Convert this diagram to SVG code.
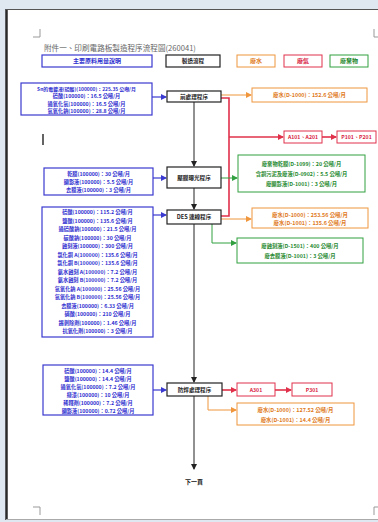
<svg xmlns="http://www.w3.org/2000/svg" width="378" height="522" viewBox="0 0 378 522">
<style>
text{font-family:"Noto Sans CJK TC","Noto Sans CJK SC",sans-serif;font-weight:bold;text-anchor:middle}
.b rect{fill:#fff;stroke:#3a3ad0;stroke-width:1.2}
.b text{fill:#2f2fd0;font-size:5.2px}
.p rect{fill:#fff;stroke:#222;stroke-width:1.2}
.p text{fill:#222;font-size:5.6px}
.o rect{fill:#fff;stroke:#f0963c;stroke-width:1}
.o text{fill:#e07a1c;font-size:5.4px}
.r rect{fill:#fff;stroke:#e0304a;stroke-width:1}
.r text{fill:#d82040;font-size:5.2px}
.g rect{fill:#fff;stroke:#30a040;stroke-width:1}
.g text{fill:#1f8a30;font-size:5.3px}
.k{stroke:#222;stroke-width:1;fill:none}
.ko{stroke:#f0963c;stroke-width:1;fill:none}
.kr{stroke:#e0304a;stroke-width:1.6;fill:none}
.kg{stroke:#30a040;stroke-width:1;fill:none}
.kb{stroke:#3a3ad0;stroke-width:1.2;fill:none}
.crn{stroke:#999;stroke-width:1;fill:none}
</style>
<defs>
<marker id="ak" markerWidth="6" markerHeight="6" refX="5" refY="3" orient="auto" markerUnits="userSpaceOnUse"><path d="M0,0L6,3L0,6z" fill="#222"/></marker>
<marker id="ao" markerWidth="6" markerHeight="6" refX="5" refY="3" orient="auto" markerUnits="userSpaceOnUse"><path d="M0,0L6,3L0,6z" fill="#f0963c"/></marker>
<marker id="ar" markerWidth="6" markerHeight="6" refX="5" refY="3" orient="auto" markerUnits="userSpaceOnUse"><path d="M0,0L6,3L0,6z" fill="#e0304a"/></marker>
<marker id="ag" markerWidth="6" markerHeight="6" refX="5" refY="3" orient="auto" markerUnits="userSpaceOnUse"><path d="M0,0L6,3L0,6z" fill="#30a040"/></marker>
<marker id="ab" markerWidth="6" markerHeight="6" refX="5" refY="3" orient="auto" markerUnits="userSpaceOnUse"><path d="M0,0L6,3L0,6z" fill="#3a3ad0"/></marker>
</defs>
<rect x="0" y="0" width="378" height="522" fill="#dfe8f1"/>
<rect x="7" y="9" width="371" height="510" fill="#fff"/>
<line x1="6.5" y1="9" x2="6.5" y2="520" stroke="#2a2a2a" stroke-width="2.5"/>
<line x1="6" y1="9.5" x2="378" y2="9.5" stroke="#555" stroke-width="1"/>
<line x1="6" y1="519.5" x2="378" y2="519.5" stroke="#aaa" stroke-width="1"/>
<g id="cornermarks">
<path class="crn" d="M40,29V37H33"/>
<path class="crn" d="M374,29V37H378"/>
<path class="crn" d="M33,507H40V515"/>
<path class="crn" d="M378,507H374V515"/>
</g>
<line x1="43" y1="134" x2="43" y2="145" stroke="#222" stroke-width="1.4"/>
<text x="44" y="51" style="font-size:7.6px;font-weight:normal;fill:#666;text-anchor:start">附件一、印刷電路板製造程序流程圖(260041)</text>

<g id="legend">
<g class="b" id="lg-material"><rect x="42" y="55" width="110" height="12"/><text x="97" y="63" style="font-size:6px">主要原料用量說明</text></g>
<g class="p" id="lg-process"><rect x="166" y="55" width="54" height="12"/><text x="193" y="63">製造流程</text></g>
<g class="o" id="lg-water"><rect x="237" y="55" width="38" height="12"/><text x="256" y="63" style="font-size:6px">廢水</text></g>
<g class="r" id="lg-gas"><rect x="284" y="55" width="38" height="12"/><text x="303" y="63" style="font-size:6px">廢氣</text></g>
<g class="g" id="lg-waste"><rect x="330" y="55" width="38" height="12"/><text x="349" y="63" style="font-size:6px">廢棄物</text></g>
</g>

<g id="connectors">
<path class="k" d="M194,102V166" marker-end="url(#ak)"/>
<path class="k" d="M194,188V209" marker-end="url(#ak)"/>
<path class="k" d="M194,224V382" marker-end="url(#ak)"/>
<path class="k" d="M194,396V469" marker-end="url(#ak)"/>
<path class="kb" d="M152,97H166" marker-end="url(#ab)"/>
<path class="kb" d="M153,178H166" marker-end="url(#ab)"/>
<path class="kb" d="M153,215H166" marker-end="url(#ab)"/>
<path class="kb" d="M153,390H166" marker-end="url(#ab)"/>
<path class="ko" d="M221,95H251" marker-end="url(#ao)"/>
<path class="kr" d="M221,98H229V216H221"/>
<path class="kr" d="M229,137H283" marker-end="url(#ar)"/>
<path class="kr" d="M322,137H336" marker-end="url(#ar)"/>
<path class="kg" d="M221,178H237" marker-end="url(#ag)"/>
<path class="ko" d="M221,219H251" marker-end="url(#ao)"/>
<path class="kg" d="M212,224V243H236" marker-end="url(#ag)"/>
<path class="kr" d="M222,390H236" marker-end="url(#ar)"/>
<path class="kr" d="M275,390H291" marker-end="url(#ar)"/>
<path class="ko" d="M208,396V410H236" marker-end="url(#ao)"/>
</g>

<g class="b" id="mat1"><rect x="21" y="83" width="131" height="32"/>
<text x="86.5" y="90.5" style="font-size:4.9px">Sn的電鍍液(硫酸)(100000)：225.35 公噸/月</text>
<text x="86.5" y="98">硫酸(100000)：16.5 公噸/月</text>
<text x="86.5" y="106">過氧化氫(100000)：16.5 公噸/月</text>
<text x="86.5" y="113">氫氧化鈉(100000)：28.8 公噸/月</text></g>
<g class="p" id="proc1"><rect x="167" y="91" width="54" height="11"/><text x="194" y="98.8">前處理程序</text></g>
<g class="o" id="ww1"><rect x="252" y="88" width="115" height="14"/><text x="309.5" y="97">廢水(D-1000)：152.6 公噸/月</text></g>
<g class="r" id="gas1"><rect x="284" y="131" width="38" height="12"/><text x="303" y="139">A101、A201</text></g>
<g class="r" id="gas2"><rect x="337" y="131" width="39" height="12"/><text x="356.5" y="139">P101、P201</text></g>

<g class="b" id="mat2"><rect x="44" y="168" width="109" height="27"/>
<text x="98.5" y="175.5">乾膜(100000)：30 公噸/月</text>
<text x="98.5" y="183.5">顯影液(100000)：5.5 公噸/月</text>
<text x="98.5" y="191.5">去膜液(100000)：3 公噸/月</text></g>
<g class="p" id="proc2"><rect x="167" y="167" width="54" height="21"/><text x="194" y="180">壓膜曝光程序</text></g>
<g class="g" id="sw1"><rect x="238" y="155" width="127" height="37"/>
<text x="301.5" y="165.5">廢棄物乾膜(D-1099)：20 公噸/月</text>
<text x="301.5" y="175.5">含銅污泥及廢液(D-0902)：5.5 公噸/月</text>
<text x="301.5" y="185.5">廢顯影液(D-1001)：3 公噸/月</text></g>

<g class="b" id="mat3"><rect x="42" y="207" width="111" height="130"/>
<text x="97.5" y="214">硫酸(100000)：115.2 公噸/月</text>
<text x="97.5" y="222.5">鹽酸(100000)：135.6 公噸/月</text>
<text x="97.5" y="231">過硫酸鈉(100000)：21.5 公噸/月</text>
<text x="97.5" y="239.5">碳酸鈉(100000)：30 公噸/月</text>
<text x="97.5" y="248">蝕刻液(100000)：300 公噸/月</text>
<text x="97.5" y="256.5">氯化銅 A(100000)：135.6 公噸/月</text>
<text x="97.5" y="265">氯化銅 B(100000)：135.6 公噸/月</text>
<text x="97.5" y="273.5">氨水蝕刻 A(100000)：7.2 公噸/月</text>
<text x="97.5" y="282">氨水蝕刻 B(100000)：7.2 公噸/月</text>
<text x="97.5" y="290.5">氫氧化鈉 A(100000)：25.56 公噸/月</text>
<text x="97.5" y="299">氫氧化鈉 B(100000)：25.56 公噸/月</text>
<text x="97.5" y="307.5">去膜液(100000)：6.33 公噸/月</text>
<text x="97.5" y="316">硝酸(100000)：210 公噸/月</text>
<text x="97.5" y="324.5">錫剝除劑(100000)：1.46 公噸/月</text>
<text x="97.5" y="333">抗氧化劑(100000)：3 公噸/月</text></g>
<g class="p" id="proc3"><rect x="167" y="210" width="54" height="14"/><text x="194" y="219">DES 連線程序</text></g>
<g class="o" id="ww2"><rect x="252" y="208" width="116" height="20"/>
<text x="310" y="216.5">廢水(D-1000)：253.56 公噸/月</text>
<text x="310" y="225">廢水(D-1001)：135.6 公噸/月</text></g>
<g class="g" id="sw2"><rect x="237" y="238" width="126" height="25"/>
<text x="300" y="247.5">廢蝕刻液(D-1501)：400 公噸/月</text>
<text x="300" y="257.5">廢去膜液(D-1001)：3 公噸/月</text></g>

<g class="b" id="mat4"><rect x="43" y="365" width="110" height="50"/>
<text x="98" y="372.5">硫酸(100000)：14.4 公噸/月</text>
<text x="98" y="380.5">鹽酸(100000)：14.4 公噸/月</text>
<text x="98" y="388.5">過氧化氫(100000)：7.2 公噸/月</text>
<text x="98" y="396.5">綠漆(100000)：10 公噸/月</text>
<text x="98" y="404.5">稀釋劑(100000)：7.2 公噸/月</text>
<text x="98" y="412.5">顯影液(100000)：0.72 公噸/月</text></g>
<g class="p" id="proc4"><rect x="167" y="383" width="55" height="13"/><text x="194.5" y="391.8">防焊處理程序</text></g>
<g class="r" id="gas3"><rect x="237" y="383" width="38" height="13"/><text x="256" y="391.5">A301</text></g>
<g class="r" id="gas4"><rect x="292" y="383" width="40" height="13"/><text x="312" y="391.5">P301</text></g>
<g class="o" id="ww3"><rect x="237" y="403" width="117" height="22"/>
<text x="295.5" y="412">廢水(D-1000)：127.52 公噸/月</text>
<text x="295.5" y="421.5">廢水(D-1001)：14.4 公噸/月</text></g>

<g id="next"><text x="194" y="484" style="font-size:6px;fill:#222">下一頁</text></g>
</svg>
